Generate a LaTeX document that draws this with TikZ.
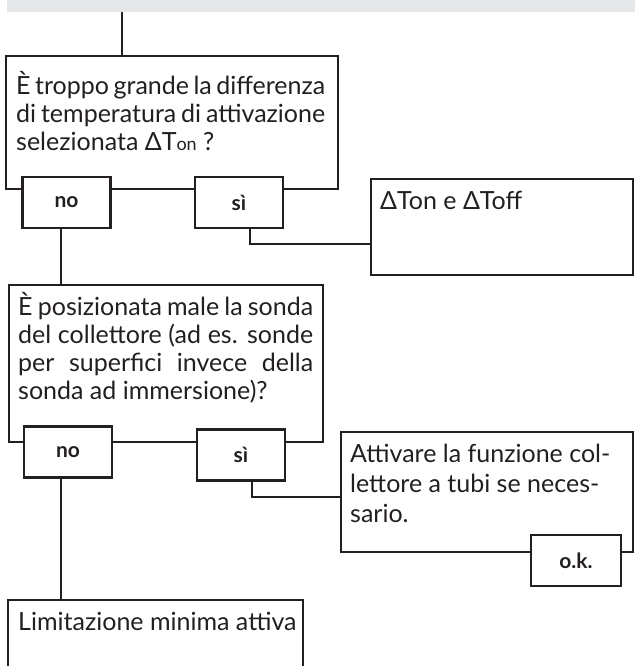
\documentclass[tikz,border=0pt]{standalone}
\usepackage{fontspec}
\setmainfont{Lato}
\usetikzlibrary{positioning,calc}
\definecolor{inkgrey}{RGB}{35,31,32}
\definecolor{bandgrey}{RGB}{230,231,232}
\newcommand{\jline}[2]{\makebox[#1][s]{#2}}

\begin{document}
\begin{tikzpicture}[x=1pt,y=-1pt,
    frame/.style={draw=inkgrey,line width=2.2pt,outer sep=0pt,inner sep=0pt,anchor=north west},
    answer/.style={draw=inkgrey,line width=2.2pt,fill=white,outer sep=0pt,inner sep=0pt,
      minimum width=88pt,minimum height=51pt,text=inkgrey,font=\fontsize{21}{24}\selectfont\bfseries},
    boxtext/.style={anchor=base west,inner sep=0pt,align=left,text=inkgrey,font=\fontsize{25}{28}\selectfont},
    link/.style={draw=inkgrey,line width=2.2pt}]
    \useasboundingbox (0,0) rectangle (635,666);

    % Header band
    \node[fill=bandgrey,minimum width=628pt,minimum height=12pt,inner sep=0pt,outer sep=0pt,anchor=north west] (band) at (7,0) {};

    % Question boxes
    \node[frame,minimum width=332pt,minimum height=133pt] (q1) at (6,56) {};
    \node[frame,minimum width=314pt,minimum height=157pt] (q2) at (9,285) {};

    % Action boxes
    \node[frame,minimum width=262pt,minimum height=96pt] (a1) at (371,179) {};
    \node[frame,minimum width=292pt,minimum height=120pt] (a2) at (341,432) {};
    \node[frame,minimum width=295pt,minimum height=90pt] (a3) at (8,600) {};

    % Texts (base = last line)
    \node[boxtext] (q1t) at (16,150)
      {\jline{309pt}{È troppo grande la differenza}\\
       \jline{309pt}{di temperatura di attivazione}\\
       selezionata ΔT{\fontsize{18}{20}\selectfont on} ?};
    \node[boxtext] (q2t) at (18,399)
      {\jline{295pt}{È posizionata male la sonda}\\
       \jline{295pt}{del collettore (ad es. sonde}\\
       \jline{295pt}{per superfici invece della}\\
       sonda ad immersione)?};
    \node[boxtext] (a1t) at (380,209) {ΔTon e ΔToff};
    \node[boxtext,font=\fontsize{25}{30}\selectfont] (a2t) at (350,522)
      {Attivare la funzione col-\\lettore a tubi se neces-\\sario.};
    \node[boxtext] (a3t) at (18,630) {Limitazione minima attiva};

    % Connectors
    \coordinate (k0) at (122,0);
    \coordinate (k1) at (61,0);
    \coordinate (k2) at (250,244);
    \coordinate (k3) at (252,497);
    \draw[link] (band.south -| k0) -- (q1.north -| k0);

    % Answer boxes
    \node[answer] (no1) at (66.5,202.5) {no};
    \node[answer] (si1) at (239,202.5) {sì};
    \node[answer] (no2) at (68,452) {no};
    \node[answer] (si2) at (241,455) {sì};
    \node[answer,minimum width=90pt] (ok) at (576,560.5) {o.k.};

    \draw[link] (no1.south -| k1) -- (q2.north -| k1);
    \draw[link] (si1.south -| k2) |- (a1.west |- k2);
    \draw[link] (no2.south -| k1) -- (a3.north -| k1);
    \draw[link] (si2.south -| k3) |- (a2.west |- k3);
\end{tikzpicture}
\end{document}
